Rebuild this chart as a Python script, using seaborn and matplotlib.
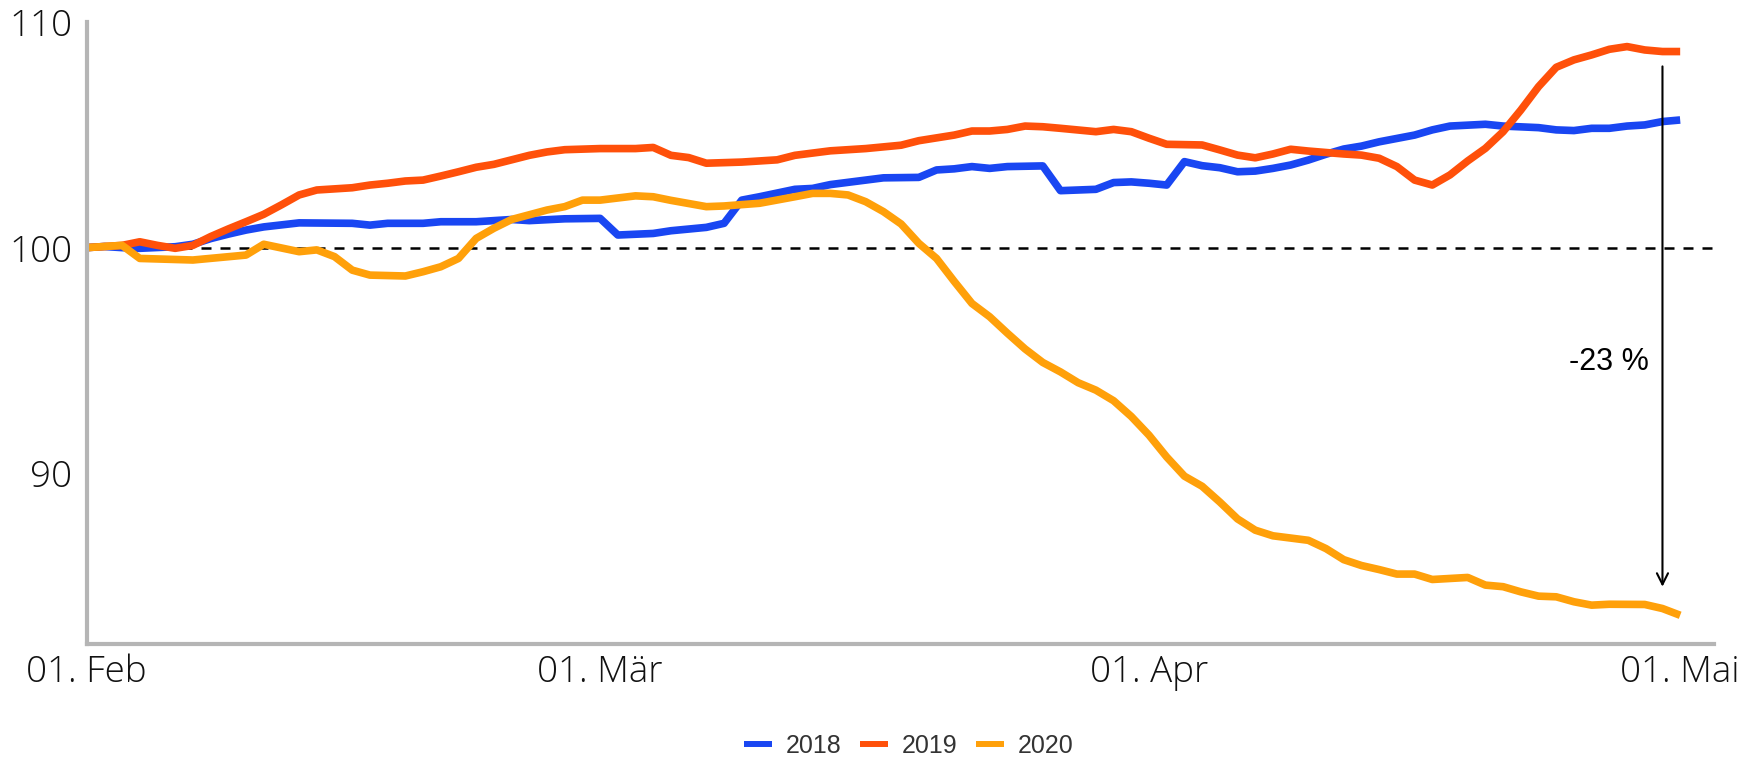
import pandas as pd
import numpy as np
import seaborn as sns
from matplotlib import pyplot as plt

# Tage ab 01.02.2020 und Indexwerte (01.02. = 100)
tage_2018 = [0, 1, 2, 3, 5, 6, 7, 8, 9, 10, 12, 15, 16, 17, 19, 20, 22, 23, 24, 25,
             27, 29, 30, 32, 33, 35, 36, 37, 38, 40, 41, 42, 44, 45, 47, 48, 49, 50,
             51, 52, 54, 55, 57, 58, 59, 60, 61, 62, 63, 64, 65, 66, 67, 68, 69, 70,
             71, 72, 73, 75, 76, 77, 79, 80, 82, 83, 84, 85, 86, 87, 88, 89, 90]
werte_2018 = [100.0, 100.05, 100.0, 99.97, 100.04, 100.15, 100.4, 100.6, 100.78, 100.92,
              101.1, 101.08, 101.0, 101.08, 101.08, 101.15, 101.15, 101.2, 101.25, 101.2,
              101.28, 101.3, 100.56, 100.63, 100.75, 100.9, 101.08, 102.11, 102.26, 102.59,
              102.63, 102.8, 103.0, 103.1, 103.12, 103.45, 103.5, 103.6, 103.52, 103.6,
              103.63, 102.53, 102.59, 102.89, 102.92, 102.86, 102.78, 103.82, 103.64, 103.55,
              103.37, 103.4, 103.52, 103.67, 103.89, 104.15, 104.38, 104.51, 104.7, 105.0,
              105.23, 105.4, 105.48, 105.4, 105.33, 105.23, 105.2, 105.3, 105.3, 105.4,
              105.45, 105.6, 105.67]

tage_2019 = [0, 1, 2, 3, 4, 5, 6, 7, 8, 9, 10, 11, 12, 13, 15, 16, 17, 18, 19, 20,
             21, 22, 23, 24, 25, 26, 27, 29, 31, 32, 33, 34, 35, 37, 39, 40, 41, 42,
             44, 46, 47, 49, 50, 51, 52, 53, 54, 55, 57, 58, 59, 60, 61, 63, 64, 65,
             66, 67, 68, 69, 71, 72, 73, 74, 75, 76, 77, 78, 79, 80, 81, 82, 83, 84,
             85, 86, 87, 88, 89, 90]
werte_2019 = [100.0, 100.05, 100.1, 100.26, 100.1, 99.97, 100.1, 100.49, 100.83, 101.15,
              101.48, 101.9, 102.34, 102.56, 102.66, 102.78, 102.86, 102.96, 103.0, 103.18,
              103.37, 103.57, 103.7, 103.9, 104.1, 104.25, 104.35, 104.4, 104.4, 104.45,
              104.1, 104.0, 103.75, 103.8, 103.9, 104.1, 104.2, 104.3, 104.4, 104.55,
              104.75, 105.0, 105.18, 105.18, 105.25, 105.4, 105.37, 105.3, 105.15, 105.25,
              105.15, 104.86, 104.59, 104.56, 104.34, 104.11, 103.99, 104.16, 104.37, 104.29,
              104.16, 104.11, 103.97, 103.6, 103.0, 102.78, 103.23, 103.85, 104.41, 105.15,
              106.11, 107.15, 108.01, 108.34, 108.56, 108.81, 108.93, 108.78, 108.71, 108.71]

tage_2020 = [0, 2, 3, 6, 9, 10, 12, 13, 14, 15, 16, 18, 19, 20, 21, 22, 23, 24, 26, 27,
             28, 29, 31, 32, 33, 35, 36, 38, 40, 41, 42, 43, 44, 45, 46, 47, 48, 49,
             50, 51, 52, 53, 54, 55, 56, 57, 58, 59, 60, 61, 62, 63, 64, 65, 66, 67,
             68, 69, 70, 71, 72, 73, 74, 75, 76, 78, 79, 80, 81, 82, 83, 84, 85, 86,
             88, 89, 90]
werte_2020 = [100.0, 100.1, 99.52, 99.45, 99.67, 100.15, 99.82, 99.9, 99.6, 99.0,
              98.78, 98.74, 98.93, 99.15, 99.52, 100.41, 100.86, 101.25, 101.67, 101.82,
              102.11, 102.11, 102.3, 102.26, 102.1, 101.82, 101.85, 101.97, 102.26, 102.41,
              102.41, 102.34, 102.04, 101.6, 101.05, 100.19, 99.52, 98.5, 97.52, 96.93,
              96.2, 95.5, 94.9, 94.48, 94.0, 93.67, 93.2, 92.5, 91.67, 90.7,
              89.85, 89.4, 88.7, 87.95, 87.45, 87.2, 87.1, 87.0, 86.63, 86.14,
              85.88, 85.7, 85.5, 85.5, 85.26, 85.35, 85.01, 84.94, 84.71, 84.52,
              84.49, 84.27, 84.12, 84.16, 84.15, 83.97, 83.67]

jahre = ['2018', '2019', '2020']
farben = ['#1946f2', '#ff500a', '#ffa00a']
tick_tage = [0, 29, 60, 90]
tick_labels = ['01. Feb', '01. Mär', '01. Apr', '01. Mai']

# %%
start = pd.Timestamp('2020-02-01')
frames = []
for jahr, tage, werte in zip(jahre, [tage_2018, tage_2019, tage_2020],
                             [werte_2018, werte_2019, werte_2020]):
    frames.append(pd.DataFrame({'datum': start + pd.to_timedelta(tage, unit='D'),
                                'index': werte, 'jahr': jahr}))
df = pd.concat(frames, ignore_index=True)

sns.set_theme(style='white')
plt.rcParams['font.family'] = ['Liberation Sans', 'DejaVu Sans']

fig, ax = plt.subplots(figsize=(17.65, 7.6), dpi=100)
fig.subplots_adjust(left=0.0491, right=0.971, bottom=0.1528, top=0.9704)

ax.axhline(100, color='black', lw=1.8, ls=(0, (4, 3.6)), zorder=1)
sns.lineplot(data=df, x='datum', y='index', hue='jahr', hue_order=jahre,
             palette=dict(zip(jahre, farben)), estimator=None, lw=5.5,
             solid_capstyle='butt', ax=ax)

ax.set_xlim(start, start + pd.Timedelta(days=91.9))
ax.set_ylim(82.4, 110)
ax.set_yticks([90, 100, 110])
ax.set_xticks(start + pd.to_timedelta(tick_tage, unit='D'))
ax.set_xticklabels(tick_labels)
ax.set_xlabel('')
ax.set_ylabel('')

sns.despine(ax=ax)
for s in ['left', 'bottom']:
    ax.spines[s].set_color('#b5b5b5')
    ax.spines[s].set_linewidth(3)
ax.tick_params(axis='both', length=3.5, width=2, color='#b5b5b5',
               labelsize=26.5, labelcolor='#111111')
ax.tick_params(axis='y', pad=7)
ax.tick_params(axis='x', pad=4)
for lab in ax.get_xticklabels() + ax.get_yticklabels():
    lab.set_family(['Open Sans', 'DejaVu Sans'])
    lab.set_fontweight('light')

# Pfeil und Beschriftung
pfeil_x = start + pd.Timedelta(days=89)
ax.annotate('', xy=(pfeil_x, 84.94), xytext=(pfeil_x, 108.05),
            arrowprops=dict(arrowstyle='->', color='black', lw=1.5,
                            shrinkA=0, shrinkB=0, mutation_scale=20))
ax.text(start + pd.Timedelta(days=86), 94.93, '-23 %', ha='center', va='center',
        fontsize=22, color='black')

handles, labels = ax.get_legend_handles_labels()
ax.get_legend().remove()
leg = fig.legend(handles, labels, loc='center', bbox_to_anchor=(0.515, 0.019),
                 ncol=3, frameon=False, fontsize=18, handlelength=1.1,
                 handletextpad=0.57, columnspacing=0.75)
for line in leg.get_lines():
    line.set_linewidth(4.3)
    line.set_solid_capstyle('butt')
for t in leg.get_texts():
    t.set_color('#333333')

fig.savefig('out.png', dpi=100)
